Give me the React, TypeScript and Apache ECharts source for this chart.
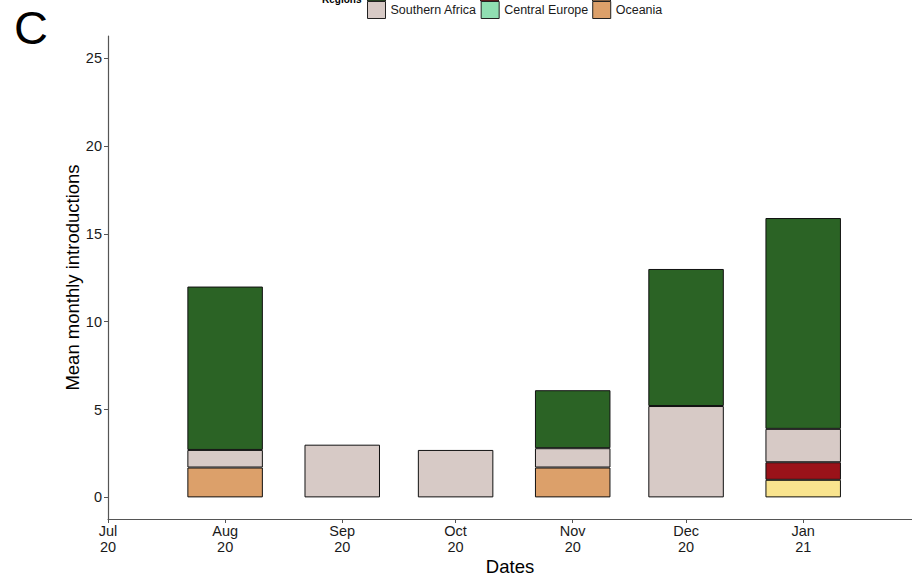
import React, { useEffect, useRef } from "react";
import * as echarts from "echarts";

// ---- data ----
const axisStart = "2020-07-01";
const axisEndDays = 212.8; // right edge of the date axis, in days after axisStart
const tickDates = ["2020-07-01", "2020-08-01", "2020-09-01", "2020-10-01", "2020-11-01", "2020-12-01", "2021-01-01"];
const tickLabels = ["Jul\n20", "Aug\n20", "Sep\n20", "Oct\n20", "Nov\n20", "Dec\n20", "Jan\n21"];
const yTicks = [0, 5, 10, 15, 20, 25];

const barDates = ["2020-08-01", "2020-09-01", "2020-10-01", "2020-11-01", "2020-12-01", "2021-01-01"];
const oceania = [1.7, 0, 0, 1.7, 0, 0];
const yellowRegion = [0, 0, 0, 0, 0, 1.0];
const centralEurope = [0, 0, 0, 0, 0, 0];
const redRegion = [0, 0, 0, 0, 0, 1.0];
const southernAfrica = [1.0, 3.0, 2.7, 1.1, 5.2, 1.9];
const greenRegion = [9.3, 0, 0, 3.3, 7.8, 12.0];

const FONT = "'Liberation Sans', Arial, Helvetica, sans-serif";
const DAY = 86400000;
const dayOf = (d: string) => (Date.parse(d) - Date.parse(axisStart)) / DAY;

// value first, date second (so that the value dimension is the stacked one)
const toRows = (vals: number[]) =>
  barDates.map((d, i) => [vals[i] > 0 ? vals[i] : "-", dayOf(d)]);

const seriesDefs = [
  { name: "Oceania", color: "#DCA06A", values: oceania },
  { name: "Region Y", color: "#F9E48E", values: yellowRegion },
  { name: "Central Europe", color: "#90DEB2", values: centralEurope },
  { name: "Region R", color: "#9A1219", values: redRegion },
  { name: "Southern Africa", color: "#D7CAC6", values: southernAfrica },
  { name: "Region G", color: "#2B6325", values: greenRegion },
];

export default function App() {
  const ref = useRef<HTMLDivElement>(null);
  useEffect(() => {
    if (!ref.current) return;
    const chart = echarts.init(ref.current, null, { renderer: "svg" });
    const tickDays = tickDates.map(dayOf);
    chart.setOption({
      animation: false,
      backgroundColor: "#ffffff",
      textStyle: { fontFamily: FONT },
      title: {
        text: "C",
        left: 9,
        top: -1,
        textStyle: { fontSize: 47, fontWeight: "normal", color: "#000", fontFamily: FONT },
      },
      legend: {
        data: ["Southern Africa", "Central Europe", "Oceania"],
        left: 367,
        top: 1,
        padding: 0,
        itemWidth: 18,
        itemHeight: 17,
        itemGap: 4,
        icon: "rect",
        itemStyle: { borderColor: "#222", borderWidth: 1 },
        textStyle: { fontSize: 12.5, color: "#1a1a1a", fontFamily: FONT, padding: [4, 0, 0, 0] },
        selectedMode: false,
      },
      graphic: [
        {
          type: "text",
          left: 322,
          top: -6,
          style: { text: "Regions", fontSize: 10, fontWeight: "bold", fill: "#000", fontFamily: FONT },
        },
        { type: "rect", shape: { x: 367.5, y: -16, width: 18, height: 17 }, style: { fill: "#2B6325", stroke: "#222", lineWidth: 1 } },
        { type: "rect", shape: { x: 480.5, y: -16, width: 18, height: 17 }, style: { fill: "#9A1219", stroke: "#222", lineWidth: 1 } },
        { type: "rect", shape: { x: 592.5, y: -16, width: 18, height: 17 }, style: { fill: "#DCA06A", stroke: "#222", lineWidth: 1 } },
      ],
      grid: { left: 108, right: 0, top: 36, bottom: 58, containLabel: false, outerBoundsMode: "none" },
      xAxis: {
        type: "value",
        min: 0,
        max: axisEndDays,
        name: "Dates",
        nameLocation: "middle",
        nameGap: 38,
        nameMoveOverlap: false,
        nameTextStyle: { fontSize: 18.5, color: "#000", fontFamily: FONT },
        axisLine: { show: true, onZero: false, lineStyle: { color: "#555", width: 1.2 } },
        axisTick: { show: true, length: 4, customValues: tickDays, lineStyle: { color: "#555" } },
        axisLabel: {
          customValues: tickDays,
          fontSize: 14.5,
          lineHeight: 16,
          margin: 4,
          color: "#1a1a1a",
          fontFamily: FONT,
          formatter: (v: number) => {
            const i = tickDays.findIndex((t) => Math.abs(t - v) < 0.01);
            return i >= 0 ? tickLabels[i] : "";
          },
        },
        splitLine: { show: false },
      },
      yAxis: {
        type: "value",
        min: -1.23,
        max: 26.26,
        name: "Mean monthly introductions",
        nameLocation: "middle",
        nameGap: 26,
        nameMoveOverlap: false,
        nameTextStyle: { fontSize: 18.5, color: "#000", fontFamily: FONT },
        axisLine: { show: true, onZero: false, lineStyle: { color: "#555", width: 1.2 } },
        axisTick: { show: true, length: 4, customValues: yTicks, lineStyle: { color: "#555" } },
        axisLabel: { customValues: yTicks, fontSize: 14.5, margin: 6, color: "#1a1a1a", fontFamily: FONT },
        splitLine: { show: false },
      },
      series: seriesDefs.map((s) => ({
        type: "bar",
        name: s.name,
        stack: "total",
        barWidth: 75.5,
        data: toRows(s.values),
        encode: { x: 1, y: 0 },
        itemStyle: { color: s.color, borderColor: "#111", borderWidth: 1 },
        emphasis: { disabled: true },
      })),
    });
    return () => chart.dispose();
  }, []);
  return (
    <div
      ref={ref}
      style={{ position: "fixed", left: 0, top: 0, width: 912, height: 577 }}
    />
  );
}
